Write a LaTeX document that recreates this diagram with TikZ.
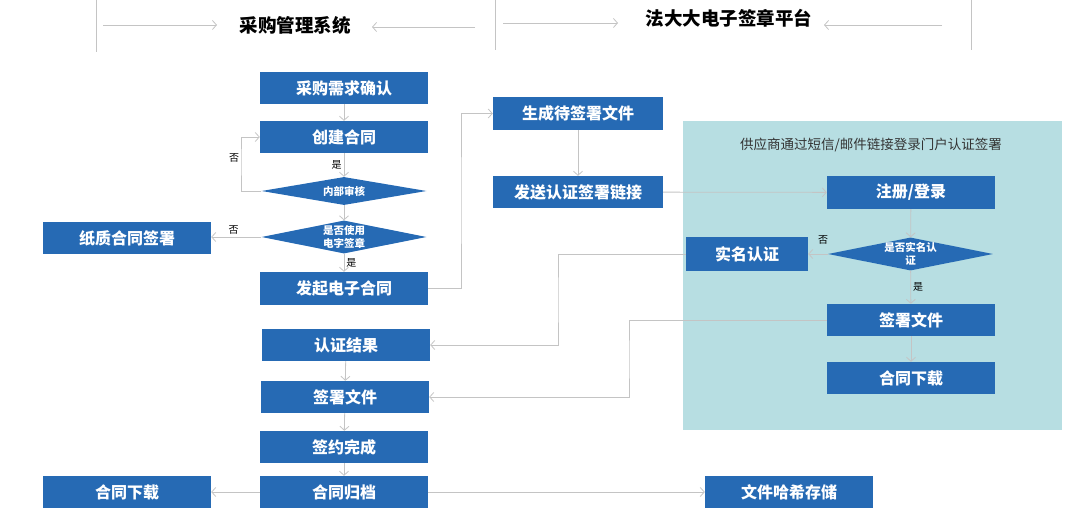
\documentclass[tikz,border=0pt]{standalone}
\usepackage{fontspec}
\setmainfont{Noto Sans CJK SC}
\usetikzlibrary{positioning,shapes.geometric,arrows.meta}
\definecolor{boxblue}{RGB}{38,106,180}
\definecolor{panel}{RGB}{183,222,226}
\definecolor{wire}{RGB}{196,196,196}

\begin{document}
\begin{tikzpicture}[x=1pt,y=-1pt,
    >={Straight Barb[length=4pt,width=9pt]},
    box/.style={rectangle,fill=boxblue,text=white,font=\bfseries\fontsize{16}{18}\selectfont,
      minimum width=168pt,minimum height=32pt,inner sep=0pt},
    ask/.style={diamond,fill=boxblue,minimum width=165pt,minimum height=31pt,inner sep=0pt},
    asktext/.style={text=white,font=\bfseries\fontsize{10.5}{12.5}\selectfont,align=center,inner sep=0pt},
    flow/.style={draw=wire,->,line width=0.8pt},
    lbl/.style={font=\fontsize{10}{12}\selectfont,inner sep=2pt},
    head/.style={font=\bfseries\fontsize{18.5}{20}\selectfont,inner sep=0pt}]
  \useasboundingbox (0,0) rectangle (1080,521);

  %HEADER
  \draw[wire,line width=0.8pt] (96,0) -- (96,52);
  \draw[wire,line width=0.8pt] (495,0) -- (495,50);
  \draw[wire,line width=0.8pt] (971,0) -- (971,50);
  \node[head] (sys) at (295,25) {采购管理系统};
  \node[head] (plat) at (729,18) {法大大电子签章平台};
  \coordinate (h1s) at (103,25);  \coordinate (h1e) at (217,25);
  \coordinate (h2s) at (475,27);  \coordinate (h2e) at (372,27);
  \coordinate (h3s) at (503,23);  \coordinate (h3e) at (618,23);
  \coordinate (h4s) at (942,25);  \coordinate (h4e) at (824,25);
  \draw[flow] (h1s) -- (h1e);
  \draw[flow] (h2s) -- (h2e);
  \draw[flow] (h3s) -- (h3e);
  \draw[flow] (h4s) -- (h4e);

  %supplier panel
  \fill[panel] (683,121) rectangle (1062,430);
  \node[font=\fontsize{13.5}{15}\selectfont,text=black!80] (note) at (871,145) {供应商通过短信/邮件链接登录门户认证签署};

  %left column
  \node[box] (need) at (344,88) {采购需求确认};
  \node[box] (create) at (344,137) {创建合同};
  \node[ask,minimum height=28pt,label={[asktext]center:内部审核}] (review) at (344,191) {};
  \node[ask,minimum height=33pt,label={[asktext]center:{是否使用\\电字签章}}] (esign) at (344,237) {};
  \node[box] (paper) at (127,238) {纸质合同签署};
  \node[box,minimum height=33pt] (launch) at (344,288.5) {发起电子合同};
  \node[box] (result) at (346,345) {认证结果};
  \node[box] (signL) at (345,397) {签署文件};
  \node[box] (done) at (344,447) {签约完成};
  \node[box] (archive) at (344,492) {合同归档};
  \node[box] (dlL) at (127,492) {合同下载};
  \node[box] (hash) at (789,492) {文件哈希存储};

  %platform column
  \node[box,minimum width=170pt,minimum height=33pt] (gen) at (578,113.5) {生成待签署文件};
  \node[box,minimum width=170pt] (send) at (578,192) {发送认证签署链接};
  \node[box,minimum height=33pt] (login) at (911,192.5) {注册/登录};
  \node[ask,minimum height=33pt,label={[asktext]center:{是否实名认\\证}}] (realq) at (910.5,254) {};
  \node[box,minimum width=122pt,minimum height=34pt] (real) at (747,254) {实名认证};
  \node[box] (signR) at (911,320) {签署文件};
  \node[box] (dlR) at (911,378) {合同下载};

  %bends
  \coordinate (bendD) at (241,160);
  \coordinate (bendA) at (461,200);
  \coordinate (bendB) at (558,300);
  \coordinate (bendC) at (629,360);

  %CONNECTORS
  \draw[flow] (need) -- (create);
  \draw[flow] (create) -- node[lbl,left]{是} (review);
  \draw[flow] (review.west) -| (bendD) |- (create.west);
  \node[lbl] (no1) at (234,158) {否};
  \draw[flow] (review) -- (esign);
  \draw[flow] (esign.west) -- node[lbl,above,pos=0.55]{否} (esign.west -| paper.east);
  \draw[flow] (esign) -- node[lbl,right]{是} (launch);
  \draw[flow] (launch.east) -| (bendA) |- (gen.west);
  \draw[flow] (gen) -- (send);
  \draw[flow] (send) -- (login);
  \draw[flow] (login) -- (realq);
  \draw[flow] (realq.west) -- (real.east);
  \node[lbl] (no2) at (823,240) {否};
  \draw[flow] (realq) -- node[lbl,right]{是} (signR);
  \draw[flow] (signR) -- (dlR);
  \draw[flow] (real.west) -| (bendB) |- (result.east);
  \draw[flow] (signR.west) -| (bendC) |- (signL.east);
  \draw[flow] (result) -- (signL);
  \draw[flow] (signL) -- (done);
  \draw[flow] (done) -- (archive);
  \draw[flow] (archive) -- (dlL);
  \draw[flow] (archive) -- (hash);
\end{tikzpicture}
\end{document}
